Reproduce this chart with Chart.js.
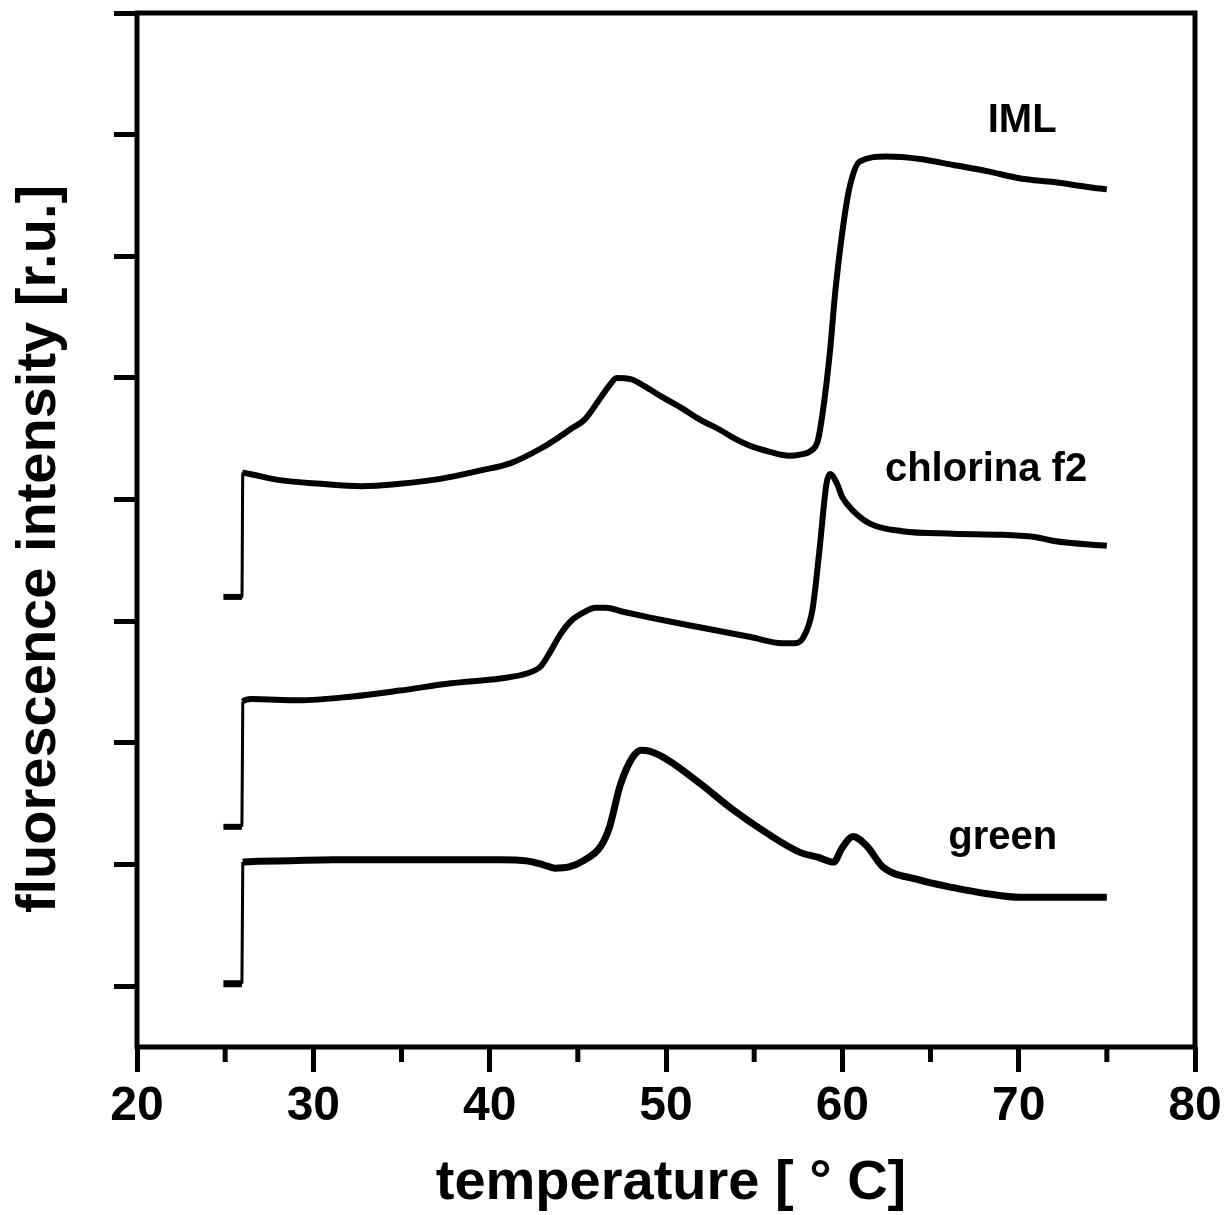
<!DOCTYPE html>
<html>
<head>
<meta charset="utf-8">
<script src="https://cdn.jsdelivr.net/npm/chart.js@4.4.0/dist/chart.umd.min.js"></script>
<style>
  html, body { margin: 0; padding: 0; background: #fff; }
  canvas { display: block; }
</style>
</head>
<body>
<canvas id="meltChart" width="1228" height="1215"></canvas>
<script>
// heating curves: temperature [°C] vs. relative fluorescence
const imlTemp = [24.9, 25.95, 26.0, 26.4, 28.1, 30.4, 32.7, 34.9, 37.2, 39.5, 41.2, 42.9, 44.0, 44.6, 45.4, 46.3, 46.8, 47.2, 48.0, 48.8, 49.7, 50.8, 51.9, 53.1, 53.8, 54.8, 55.7, 56.5, 57.0, 57.6, 58.2, 58.6, 58.9, 59.3, 59.6, 60.0, 60.4, 61.0, 62.5, 64.4, 66.3, 68.2, 70.1, 72.0, 73.9, 75.0];
const imlValue = [4.20, 4.20, 5.22, 5.21, 5.16, 5.13, 5.11, 5.13, 5.17, 5.24, 5.30, 5.42, 5.52, 5.58, 5.66, 5.84, 5.94, 6.00, 5.99, 5.93, 5.85, 5.76, 5.66, 5.57, 5.51, 5.44, 5.40, 5.37, 5.36, 5.37, 5.40, 5.48, 5.73, 6.22, 6.71, 7.20, 7.56, 7.78, 7.82, 7.80, 7.75, 7.70, 7.64, 7.61, 7.57, 7.55];

const chlorinaTemp = [24.9, 25.95, 26.0, 26.5, 29.2, 32.1, 34.9, 37.8, 40.6, 42.1, 42.9, 43.4, 44.0, 44.6, 45.3, 46.0, 46.6, 47.5, 49.1, 51.9, 54.8, 56.6, 57.3, 57.8, 58.3, 58.7, 59.1, 59.3, 59.7, 60.0, 60.6, 61.6, 63.4, 66.3, 69.1, 71.0, 72.0, 75.0];
const chlorinaValue = [2.31, 2.31, 3.34, 3.36, 3.35, 3.38, 3.43, 3.49, 3.53, 3.57, 3.63, 3.74, 3.89, 4.00, 4.07, 4.11, 4.11, 4.08, 4.03, 3.95, 3.87, 3.82, 3.82, 3.87, 4.09, 4.58, 5.13, 5.21, 5.13, 5.02, 4.91, 4.80, 4.74, 4.72, 4.71, 4.69, 4.66, 4.62];

const greenTemp = [24.9, 25.95, 26.0, 28.0, 31.1, 34.9, 38.0, 40.6, 42.1, 43.0, 43.7, 44.5, 45.3, 46.3, 46.8, 47.4, 48.1, 48.6, 49.1, 50.1, 51.9, 53.8, 55.7, 57.6, 58.6, 59.5, 60.0, 60.6, 61.4, 62.3, 64.2, 66.3, 68.2, 70.1, 72.0, 75.0];
const greenValue = [1.02, 1.02, 2.02, 2.03, 2.04, 2.04, 2.04, 2.04, 2.03, 2.00, 1.97, 1.98, 2.03, 2.15, 2.31, 2.65, 2.88, 2.94, 2.93, 2.86, 2.67, 2.45, 2.26, 2.10, 2.06, 2.02, 2.14, 2.23, 2.15, 1.98, 1.88, 1.81, 1.76, 1.73, 1.73, 1.73];

const seriesNames = ['IML', 'chlorina f2', 'green'];
const xTicks = [20, 30, 40, 50, 60, 70, 80];
const xMinorTicks = [25, 35, 45, 55, 65, 75];
const yTicks = [1, 2, 3, 4, 5, 6, 7, 8, 9];

const xTitle = 'temperature [ ° C]';
const yTitle = 'fluorescence intensity [r.u.]';

const FONT = '"Liberation Sans", Arial, Helvetica, sans-serif';

// where each curve's name sits, in data units
const nameSpots = [
  { x: 70.2, y: 8.11 },
  { x: 68.15, y: 5.24 },
  { x: 69.1, y: 2.22 }
];

function toPoints(xs, ys) {
  return xs.map((t, i) => ({ x: t, y: ys[i] }));
}

function curve(label, xs, ys, width) {
  return {
    label: label,
    data: toPoints(xs, ys),
    borderColor: '#000',
    borderWidth: width,
    borderJoinStyle: 'round',
    pointRadius: 0,
    cubicInterpolationMode: 'monotone',
    segment: {
      // the step at switch-on is a thin vertical stroke
      borderWidth: ctx => (ctx.p1.parsed.x - ctx.p0.parsed.x < 0.1 ? 3 : width)
    }
  };
}

const frameAndText = {
  id: 'frameAndText',
  afterDraw(chart) {
    const { ctx, chartArea: a, scales: { x, y } } = chart;
    ctx.save();
    ctx.strokeStyle = '#000';
    ctx.fillStyle = '#000';
    ctx.lineWidth = 5;
    ctx.strokeRect(a.left, a.top, a.right - a.left, a.bottom - a.top);

    // short minor ticks on the temperature axis
    xMinorTicks.forEach(t => {
      const px = x.getPixelForValue(t);
      ctx.beginPath();
      ctx.moveTo(px, a.bottom);
      ctx.lineTo(px, a.bottom + 15);
      ctx.stroke();
    });

    // curve names
    ctx.font = 'bold 40px ' + FONT;
    ctx.textAlign = 'center';
    ctx.textBaseline = 'middle';
    seriesNames.forEach((name, i) => {
      const s = nameSpots[i];
      ctx.fillText(name, x.getPixelForValue(s.x), y.getPixelForValue(s.y));
    });

    // axis titles
    ctx.font = 'bold 56px ' + FONT;
    ctx.textBaseline = 'alphabetic';
    ctx.fillText(xTitle, (a.left + a.right) / 2 + 5, a.bottom + 152);

    ctx.translate(55, (a.top + a.bottom) / 2 + 19);
    ctx.rotate(-Math.PI / 2);
    ctx.fillText(yTitle, 0, 0);
    ctx.restore();
  }
};

const ctx = document.getElementById('meltChart').getContext('2d');
new Chart(ctx, {
  type: 'line',
  data: {
    datasets: [
      curve(seriesNames[0], imlTemp, imlValue, 6),
      curve(seriesNames[1], chlorinaTemp, chlorinaValue, 6),
      curve(seriesNames[2], greenTemp, greenValue, 7)
    ]
  },
  options: {
    responsive: false,
    animation: false,
    layout: { padding: { top: 13, right: 33, left: 0, bottom: 0 } },
    plugins: {
      legend: { display: false },
      tooltip: { enabled: false }
    },
    scales: {
      x: {
        type: 'linear',
        min: 20,
        max: 80,
        afterBuildTicks: scale => { scale.ticks = xTicks.map(v => ({ value: v })); },
        afterFit: scale => { scale.height = 168; },
        border: { display: false },
        grid: {
          drawOnChartArea: false,
          drawTicks: true,
          tickLength: 25,
          tickWidth: 5,
          tickColor: '#000'
        },
        ticks: {
          color: '#000',
          padding: 6,
          maxRotation: 0,
          font: { family: FONT, size: 48, weight: 'bold' }
        }
      },
      y: {
        type: 'linear',
        min: 0.5,
        max: 9,
        afterBuildTicks: scale => { scale.ticks = yTicks.map(v => ({ value: v })); },
        afterFit: scale => { scale.width = 137; },
        border: { display: false },
        grid: {
          drawOnChartArea: false,
          drawTicks: true,
          tickLength: 23,
          tickWidth: 5,
          tickColor: '#000'
        },
        ticks: { display: false }
      }
    }
  },
  plugins: [frameAndText]
});
</script>
</body>
</html>
